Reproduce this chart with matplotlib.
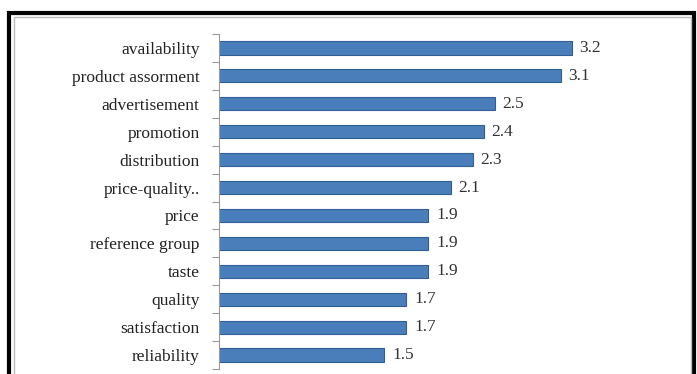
import matplotlib.pyplot as plt
from matplotlib.patches import Rectangle
import numpy as np

categories = ['availability', 'product assorment', 'advertisement', 'promotion',
              'distribution', 'price-quality..', 'price', 'reference group',
              'taste', 'quality', 'satisfaction', 'reliability']
values = [3.2, 3.1, 2.5, 2.4, 2.3, 2.1, 1.9, 1.9, 1.9, 1.7, 1.7, 1.5]

fig = plt.figure(figsize=(6.97, 3.74), dpi=100)
ax = fig.add_axes([219 / 697, 1 - 369 / 374, (682 - 219) / 697, (369 - 34) / 374])

y = np.arange(len(categories))
ax.barh(y, values, height=0.47, color='#4a7ebb', edgecolor='#2f5d94', linewidth=0.8)
for yi, v in zip(y, values):
    ax.text(v + 0.07, yi, f'{v}', va='center', ha='left', fontsize=12.5,
            family='Liberation Serif', color='#333333')

ax.set_ylim(len(categories) - 0.5, -0.5)
ax.set_xlim(0, 4.2)
ax.set_yticks(y)
ax.set_yticklabels(categories, family='Liberation Serif', fontsize=12.5, color='#222222')
ax.set_yticks(np.arange(-0.5, len(categories), 1), minor=True)
ax.tick_params(axis='y', which='major', length=0, pad=14)
ax.tick_params(axis='y', which='minor', length=5, color='#999999', width=0.8)
ax.set_xticks([])
for s in ['top', 'right', 'bottom']:
    ax.spines[s].set_visible(False)
ax.spines['left'].set_color('#999999')
ax.spines['left'].set_linewidth(0.8)

# outer frame
fig.patches.append(Rectangle((9 / 697, -0.2), 685 / 697, 1.2 - 13 / 374,
                             transform=fig.transFigure, fill=False,
                             edgecolor='black', linewidth=3))
fig.patches.append(Rectangle((14 / 697, -0.2), 677 / 697, 1.2 - 17 / 374,
                             transform=fig.transFigure, fill=False,
                             edgecolor='#bbbbbb', linewidth=1))

fig.savefig('out.png', dpi=100)
